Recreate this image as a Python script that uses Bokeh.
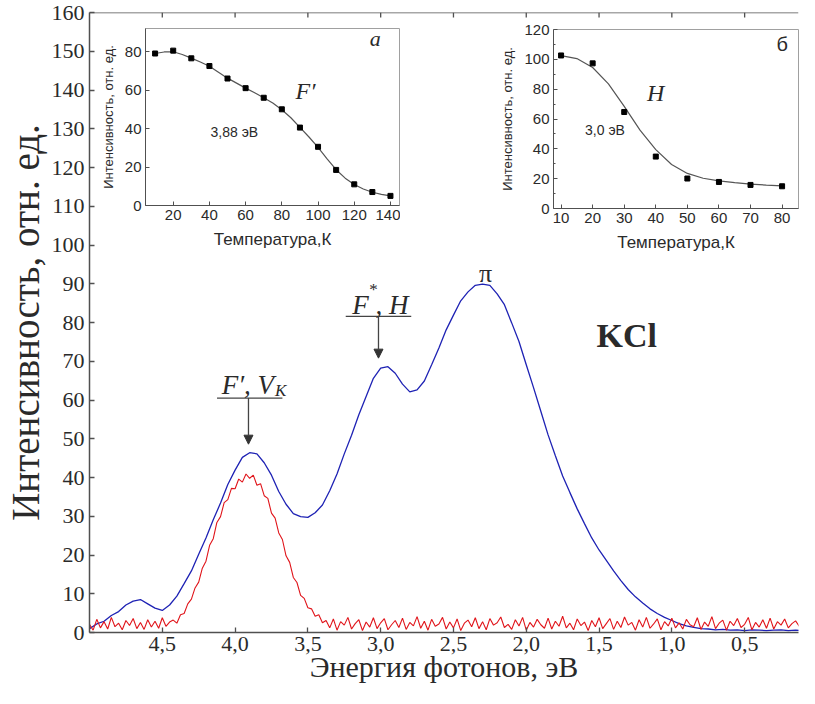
from bokeh.plotting import figure
from bokeh.layouts import column, row
from bokeh.models import Range1d, FixedTicker, Arrow, NormalHead, Label, Span
from bokeh.embed import file_html
from bokeh.resources import INLINE

# ---------------- DATA ----------------
# main spectrum: blue (total) and red (F'-band)
blue_energy = [5.00, 4.95, 4.90, 4.85, 4.80, 4.75, 4.70, 4.65, 4.60, 4.55,
               4.50, 4.45, 4.40, 4.35, 4.30, 4.25, 4.20, 4.15, 4.10, 4.05,
               4.00, 3.95, 3.90, 3.85, 3.80, 3.75, 3.70, 3.65, 3.60, 3.55,
               3.50, 3.45, 3.40, 3.35, 3.30, 3.25, 3.20, 3.15, 3.10, 3.05,
               3.00, 2.95, 2.90, 2.85, 2.80, 2.75, 2.70, 2.65, 2.60, 2.55,
               2.50, 2.45, 2.40, 2.35, 2.30, 2.25, 2.20, 2.15, 2.10, 2.05,
               2.00, 1.95, 1.90, 1.85, 1.80, 1.75, 1.70, 1.65, 1.60, 1.55,
               1.50, 1.45, 1.40, 1.35, 1.30, 1.25, 1.20, 1.15, 1.10, 1.05,
               1.00, 0.95, 0.90, 0.85, 0.80, 0.75, 0.70, 0.65, 0.60, 0.55,
               0.50, 0.45, 0.40, 0.35, 0.30, 0.25, 0.20, 0.15, 0.10]
blue_intensity = [1.0, 2.2, 2.9, 4.4, 5.4, 7.1, 8.1, 8.5, 7.4, 6.3,
                  5.7, 7.1, 9.4, 12.6, 15.9, 20.2, 24.4, 29.1, 33.4, 38.2,
                  41.9, 45.2, 46.4, 46.1, 43.8, 40.6, 36.4, 33.1, 30.7, 29.9,
                  29.7, 30.9, 32.9, 36.6, 40.9, 46.1, 50.9, 56.2, 60.9, 65.6,
                  68.2, 68.6, 66.9, 64.1, 62.1, 62.6, 64.9, 69.1, 73.4, 78.1,
                  81.9, 85.6, 87.9, 89.6, 89.9, 89.6, 87.4, 84.6, 79.9, 75.1,
                  69.1, 63.2, 57.1, 51.0, 45.6, 40.4, 36.1, 31.9, 28.1, 24.4,
                  21.3, 18.6, 15.9, 13.4, 11.1, 9.2, 7.6, 6.1, 4.9, 3.9,
                  3.1, 2.3, 1.7, 1.3, 1.0, 0.9, 0.7, 0.8, 0.6, 0.7,
                  0.5, 0.7, 0.6, 0.5, 0.6, 0.7, 0.5, 0.6, 0.5]

red_energy = [5.000, 4.975, 4.950, 4.925, 4.900, 4.875, 4.850, 4.825, 4.800, 4.775,
              4.750, 4.725, 4.700, 4.675, 4.650, 4.625, 4.600, 4.575, 4.550, 4.525,
              4.500, 4.475, 4.450, 4.425, 4.400, 4.375, 4.350, 4.325, 4.300, 4.275,
              4.250, 4.225, 4.200, 4.175, 4.150, 4.125, 4.100, 4.075, 4.050, 4.025,
              4.000, 3.975, 3.950, 3.925, 3.900, 3.875, 3.850, 3.825, 3.800, 3.775,
              3.750, 3.725, 3.700, 3.675, 3.650, 3.625, 3.600, 3.575, 3.550, 3.525,
              3.500, 3.475, 3.450, 3.425, 3.400, 3.375, 3.350, 3.325, 3.300, 3.275,
              3.250, 3.225, 3.200, 3.175, 3.150, 3.125, 3.100, 3.075, 3.050, 3.025,
              3.000, 2.975, 2.950, 2.925, 2.900, 2.875, 2.850, 2.825, 2.800, 2.775,
              2.750, 2.725, 2.700, 2.675, 2.650, 2.625, 2.600, 2.575, 2.550, 2.525,
              2.500, 2.475, 2.450, 2.425, 2.400, 2.375, 2.350, 2.325, 2.300, 2.275,
              2.250, 2.225, 2.200, 2.175, 2.150, 2.125, 2.100, 2.075, 2.050, 2.025,
              2.000, 1.975, 1.950, 1.925, 1.900, 1.875, 1.850, 1.825, 1.800, 1.775,
              1.750, 1.725, 1.700, 1.675, 1.650, 1.625, 1.600, 1.575, 1.550, 1.525,
              1.500, 1.475, 1.450, 1.425, 1.400, 1.375, 1.350, 1.325, 1.300, 1.275,
              1.250, 1.225, 1.200, 1.175, 1.150, 1.125, 1.100, 1.075, 1.050, 1.025,
              1.000, 0.975, 0.950, 0.925, 0.900, 0.875, 0.850, 0.825, 0.800, 0.775,
              0.750, 0.725, 0.700, 0.675, 0.650, 0.625, 0.600, 0.575, 0.550, 0.525,
              0.500, 0.475, 0.450, 0.425, 0.400, 0.375, 0.350, 0.325, 0.300, 0.275,
              0.250, 0.225, 0.200, 0.175, 0.150, 0.125]
red_intensity = [2.1, 0.6, 3.4, 1.2, 2.8, 0.9, 3.9, 1.5, 2.4, 0.7,
                 3.1, 1.8, 3.6, 1.0, 2.6, 0.8, 3.3, 1.4, 2.9, 1.1,
                 3.8, 1.6, 2.7, 3.2, 2.4, 4.6, 4.9, 7.4, 8.6, 11.5,
                 13.0, 16.6, 18.4, 22.5, 24.2, 28.4, 29.9, 33.5, 34.3, 37.2,
                 37.1, 39.6, 38.8, 40.9, 39.8, 40.6, 38.0, 38.4, 35.3, 34.6,
                 30.8, 29.5, 25.7, 24.0, 19.8, 18.1, 14.2, 12.9, 9.6, 8.8,
                 6.4, 6.1, 4.2, 4.6, 2.5, 3.1, 1.2, 3.5, 0.6, 2.8,
                 1.9, 3.9, 0.9, 2.3, 3.3, 0.5, 2.7, 1.4, 3.8, 1.0,
                 2.5, 3.6, 0.7, 2.0, 3.1, 1.3, 3.7, 0.8, 2.6, 1.7,
                 4.1, 1.1, 2.9, 0.6, 3.4, 1.6, 2.2, 3.9, 0.9, 2.7,
                 1.2, 3.5, 0.5, 2.4, 3.2, 1.5, 3.8, 1.0, 2.8, 0.7,
                 3.6, 1.9, 2.5, 4.0, 1.3, 2.1, 0.8, 3.3, 1.7, 3.9,
                 0.6, 2.6, 1.4, 3.4, 2.0, 1.1, 3.7, 0.9, 2.9, 1.6,
                 4.2, 1.2, 2.4, 0.7, 3.5, 1.8, 2.7, 0.5, 3.1, 1.5,
                 3.8, 1.0, 2.3, 3.6, 0.8, 2.9, 1.3, 4.0, 1.9, 2.6,
                 0.6, 3.3, 1.4, 3.9, 1.1, 2.2, 3.5, 0.7, 2.8, 1.7,
                 3.7, 1.2, 2.5, 0.9, 3.4, 2.0, 1.5, 3.8, 0.8, 2.7,
                 1.6, 4.1, 1.0, 2.4, 3.2, 0.6, 2.9, 1.8, 3.6, 1.3,
                 2.1, 3.9, 0.7, 2.6, 1.4, 3.3, 1.1, 3.7, 0.9, 2.8,
                 1.9, 3.5, 1.2, 2.3, 3.0, 1.6]

x_ticks = [4.5, 4.0, 3.5, 3.0, 2.5, 2.0, 1.5, 1.0, 0.5]
x_tick_labels = ["4,5", "4,0", "3,5", "3,0", "2,5", "2,0", "1,5", "1,0", "0,5"]
y_ticks = [0, 10, 20, 30, 40, 50, 60, 70, 80, 90, 100, 110, 120, 130, 140, 150, 160]

# inset a : F' band, 3.88 eV
temp_a = [10, 20, 30, 40, 50, 60, 70, 80, 90, 100, 110, 120, 130, 140]
int_a = [79.0, 80.5, 76.5, 72.5, 66.0, 61.0, 56.0, 50.0, 40.5, 30.5, 18.5, 11.0, 7.0, 5.0]
fit_temp_a = [10, 15, 20, 25, 30, 35, 40, 45, 50, 55, 60, 65, 70, 75, 80, 85, 90,
              95, 100, 105, 110, 115, 120, 125, 130, 135, 140]
fit_int_a = [79.0, 79.8, 79.9, 78.5, 76.6, 74.6, 72.4, 69.3, 66.2, 63.6, 61.0, 58.6,
             56.0, 53.3, 49.8, 45.6, 40.6, 35.6, 30.2, 24.2, 18.6, 14.2, 10.9, 8.6,
             6.9, 5.8, 5.0]
a_x_ticks = [20, 40, 60, 80, 100, 120, 140]
a_y_ticks = [0, 20, 40, 60, 80]

# inset b : H band, 3.0 eV
temp_b = [10, 20, 30, 40, 50, 60, 70, 80]
int_b = [102.6, 97.3, 64.7, 34.8, 20.1, 17.8, 15.8, 14.9]
fit_temp_b = [10, 15, 20, 25, 30, 35, 40, 45, 50, 55, 60, 65, 70, 75, 80]
fit_int_b = [102.5, 100.5, 94.5, 83.5, 68.5, 52.5, 39.5, 29.5, 23.5, 20.3, 18.5,
             17.3, 16.4, 15.7, 15.2]
b_x_ticks = [10, 20, 30, 40, 50, 60, 70, 80]
b_y_ticks = [0, 20, 40, 60, 80, 100, 120]
b_y_minor = [10, 30, 50, 70, 90, 110]

# ---------------- STYLE ----------------
SERIF = "Liberation Serif"
SANS = "Liberation Sans"
AX = "#505050"
TXT = "#2a2a2a"

# ---------------- MAIN FIGURE ----------------
Y_TOP = 160
p = figure(width=799, height=688, x_range=Range1d(5.0, 0.13), y_range=Range1d(0, Y_TOP),
           output_backend="svg", toolbar_location=None,
           min_border_left=86, min_border_right=1, min_border_top=12, min_border_bottom=56)
p.outline_line_color = None
p.grid.visible = False
p.background_fill_color = "white"
p.border_fill_color = "white"

p.line(blue_energy, blue_intensity, line_color="#1e22b4", line_width=1.3)
p.line(red_energy, red_intensity, line_color="#e0141a", line_width=1.1)

p.xaxis.ticker = FixedTicker(ticks=x_ticks)
p.xaxis.major_label_overrides = dict(zip(x_ticks, x_tick_labels))
p.yaxis.ticker = FixedTicker(ticks=y_ticks)
for ax in (p.xaxis[0], p.yaxis[0]):
    ax.axis_line_color = AX
    ax.axis_line_width = 1.5
    ax.major_tick_line_color = AX
    ax.major_tick_line_width = 1.3
    ax.major_tick_in = 5
    ax.major_tick_out = 0
    ax.minor_tick_line_color = None
    ax.major_label_text_font = SERIF
    ax.major_label_text_font_size = "22px"
    ax.major_label_text_color = TXT
    ax.axis_label_text_font = SERIF
    ax.axis_label_text_font_style = "normal"
    ax.axis_label_text_color = TXT
p.xaxis.axis_label = "Энергия фотонов, эВ"
p.xaxis.axis_label_text_font_size = "30px"
p.xaxis.major_label_standoff = 4
p.xaxis.axis_label_standoff = -4
p.yaxis.axis_label = "Интенсивность, отн. ед."
p.yaxis.axis_label_text_font_size = "39px"
p.yaxis.major_label_standoff = 5
p.yaxis.axis_label_standoff = 2

# top frame line with inward ticks at the same energies as the bottom axis
p.add_layout(Span(location=Y_TOP, dimension="width", line_color=AX, line_width=1.5))
p.segment(x0=x_ticks, y0=[Y_TOP] * len(x_ticks), x1=x_ticks,
          y1=[Y_TOP - 1.3] * len(x_ticks), line_color=AX, line_width=1.3)

# annotations
p.add_layout(Label(x=2.28, y=92.6, text="π", text_font=SERIF, text_font_size="26px",
                   text_color=TXT, text_align="center", text_baseline="alphabetic"))
p.add_layout(Label(x=1.517, y=76.7, text="KCl", text_font=SERIF, text_font_size="34px",
                   text_font_style="bold", text_color=TXT, text_align="left",
                   text_baseline="alphabetic"))
# F', V_K
p.add_layout(Label(x=3.732, y=63.8, text="F′, V", text_font=SERIF, text_font_size="27px",
                   text_font_style="italic", text_color=TXT, text_align="right",
                   text_baseline="alphabetic"))
p.add_layout(Label(x=3.725, y=62.4, text="K", text_font=SERIF, text_font_size="17px",
                   text_font_style="italic", text_color=TXT, text_align="left",
                   text_baseline="alphabetic"))
# F*, H
p.add_layout(Label(x=3.195, y=84.4, text="F", text_font=SERIF, text_font_size="27px",
                   text_font_style="italic", text_color=TXT, text_align="left",
                   text_baseline="alphabetic"))
p.add_layout(Label(x=3.078, y=88.6, text="*", text_font=SERIF, text_font_size="17px",
                   text_color=TXT, text_align="left", text_baseline="alphabetic"))
p.add_layout(Label(x=3.035, y=84.4, text=", H", text_font=SERIF, text_font_size="27px",
                   text_font_style="italic", text_color=TXT, text_align="left",
                   text_baseline="alphabetic"))
p.segment(x0=[4.124, 3.24], y0=[60.5, 81.6], x1=[3.675, 2.79], y1=[60.5, 81.6],
          line_color="#444444", line_width=1.3)
for xa, ys, ye in [(3.908, 60.5, 48.6), (3.015, 81.6, 70.8)]:
    p.add_layout(Arrow(end=NormalHead(size=9, fill_color="#333333", line_color="#333333"),
                       x_start=xa, y_start=ys, x_end=xa, y_end=ye,
                       line_color="#444444", line_width=1.3))


# ---------------- INSETS ----------------
def style_inset(f, xt, yt, y_minor=None):
    f.outline_line_color = "#a0a0a0"
    f.outline_line_width = 1
    f.grid.visible = False
    f.background_fill_color = "white"
    f.border_fill_color = "white"
    f.xaxis.ticker = FixedTicker(ticks=xt)
    f.yaxis.ticker = FixedTicker(ticks=yt, minor_ticks=y_minor or [])
    for ax in (f.xaxis[0], f.yaxis[0]):
        ax.axis_line_color = AX
        ax.axis_line_width = 1
        ax.major_tick_line_color = AX
        ax.major_tick_in = 4
        ax.major_tick_out = 0
        ax.minor_tick_line_color = AX
        ax.minor_tick_in = 2
        ax.minor_tick_out = 0
        ax.major_label_text_font = SANS
        ax.major_label_text_font_size = "15px"
        ax.major_label_text_color = TXT
        ax.major_label_standoff = 4
        ax.axis_label_text_font = SANS
        ax.axis_label_text_font_style = "normal"
        ax.axis_label_text_color = TXT
    f.xaxis.axis_label = "Температура,К"
    f.xaxis.axis_label_text_font_size = "17px"
    f.xaxis.axis_label_standoff = 7
    f.yaxis.axis_label = "Интенсивность, отн. ед."
    f.yaxis.axis_label_text_font_size = "13px"
    f.yaxis.axis_label_standoff = 6


ia = figure(width=305, height=239, x_range=Range1d(4.7, 145), y_range=Range1d(0, 92),
            output_backend="svg", toolbar_location=None,
            min_border_left=50, min_border_right=1, min_border_top=10, min_border_bottom=52)
style_inset(ia, a_x_ticks, a_y_ticks)
ia.line(fit_temp_a, fit_int_a, line_color="#555555", line_width=1.2)
ia.scatter(temp_a, int_a, marker="square", size=5, color="black")
ia.add_layout(Label(x=87.6, y=52.5, text="F′", text_font=SERIF, text_font_size="24px",
                    text_font_style="italic", text_color=TXT))
ia.add_layout(Label(x=40.6, y=33.8, text="3,88 эВ", text_font=SANS, text_font_size="14px",
                    text_color=TXT))
ia.add_layout(Label(x=128.5, y=80.4, text="a", text_font=SERIF, text_font_size="22px",
                    text_font_style="italic", text_color=TXT))

ib = figure(width=302, height=241, x_range=Range1d(7.6, 85.2), y_range=Range1d(0, 120),
            output_backend="svg", toolbar_location=None,
            min_border_left=53, min_border_right=1, min_border_top=10, min_border_bottom=52)
style_inset(ib, b_x_ticks, b_y_ticks, b_y_minor)
ib.line(fit_temp_b, fit_int_b, line_color="#555555", line_width=1.2)
ib.scatter(temp_b, int_b, marker="square", size=5, color="black")
ib.add_layout(Label(x=37.2, y=69.0, text="H", text_font=SERIF, text_font_size="24px",
                    text_font_style="italic", text_color=TXT))
ib.add_layout(Label(x=17.6, y=47.5, text="3,0 эВ", text_font=SANS, text_font_size="14px",
                    text_color=TXT))
ib.add_layout(Label(x=78.2, y=103.0, text="б", text_font=SANS, text_font_size="20px",
                    text_color=TXT))

# insets are laid over the upper part of the main plot
ia.margin = (0, 0, 0, 95)
ib.margin = (1, 0, 0, 97)
insets = row(ia, ib)
insets.margin = (-670, 0, 0, 0)
layout = column(p, insets)

open("out.html", "w").write(file_html(layout, INLINE))
